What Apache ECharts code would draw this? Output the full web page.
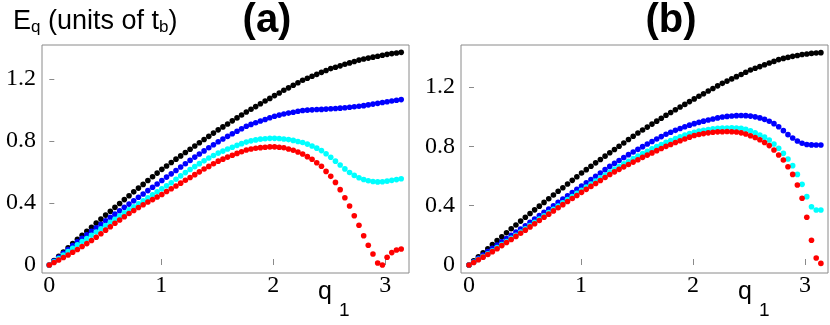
<!DOCTYPE html>
<html>
<head>
<meta charset="utf-8">
<title>E_q vs q_1</title>
<script src="https://cdn.jsdelivr.net/npm/echarts@6/dist/echarts.min.js"></script>
<style>
    html, body { margin: 0; padding: 0; background: #fff; }
    #chart { width: 830px; height: 325px; }
</style>
</head>
<body>
<div id="chart"></div>
<script>
    // q1 sample points, 0 .. pi
    var q1 = [
        0, 0.042, 0.084, 0.126, 0.168, 0.209, 0.251, 0.293, 0.335, 0.377,
        0.419, 0.461, 0.503, 0.545, 0.586, 0.628, 0.670, 0.712, 0.754, 0.796,
        0.838, 0.880, 0.922, 0.963, 1.005, 1.047, 1.089, 1.131, 1.173, 1.215,
        1.257, 1.299, 1.340, 1.382, 1.424, 1.466, 1.508, 1.550, 1.592, 1.634,
        1.676, 1.717, 1.759, 1.801, 1.843, 1.885, 1.927, 1.969, 2.011, 2.053,
        2.094, 2.136, 2.178, 2.220, 2.262, 2.304, 2.346, 2.388, 2.430, 2.471,
        2.513, 2.555, 2.597, 2.639, 2.681, 2.723, 2.765, 2.807, 2.848, 2.890,
        2.932, 2.974, 3.016, 3.058, 3.100, 3.142
    ];

    // panel (a)
    var aBlack = [
        0, 0.028, 0.056, 0.083, 0.111, 0.138, 0.166, 0.192, 0.218, 0.244,
        0.270, 0.296, 0.322, 0.347, 0.372, 0.397, 0.422, 0.447, 0.472, 0.496,
        0.520, 0.545, 0.569, 0.593, 0.617, 0.639, 0.661, 0.683, 0.704, 0.726,
        0.747, 0.768, 0.789, 0.810, 0.830, 0.851, 0.872, 0.891, 0.910, 0.930,
        0.949, 0.968, 0.987, 1.005, 1.022, 1.040, 1.058, 1.075, 1.093, 1.110,
        1.127, 1.143, 1.160, 1.176, 1.192, 1.205, 1.218, 1.230, 1.243, 1.255,
        1.267, 1.276, 1.285, 1.295, 1.304, 1.313, 1.322, 1.329, 1.335, 1.341,
        1.347, 1.353, 1.359, 1.364, 1.368, 1.372
    ];
    var aBlue = [
        0, 0.025, 0.050, 0.075, 0.100, 0.125, 0.150, 0.172, 0.195, 0.217,
        0.240, 0.262, 0.285, 0.307, 0.328, 0.350, 0.372, 0.393, 0.415, 0.437,
        0.458, 0.480, 0.502, 0.523, 0.545, 0.567, 0.588, 0.610, 0.632, 0.653,
        0.675, 0.696, 0.716, 0.736, 0.756, 0.776, 0.795, 0.813, 0.830, 0.847,
        0.863, 0.879, 0.895, 0.907, 0.918, 0.929, 0.939, 0.950, 0.960, 0.967,
        0.974, 0.980, 0.986, 0.992, 0.997, 0.999, 1.001, 1.003, 1.004, 1.006,
        1.008, 1.010, 1.012, 1.015, 1.018, 1.021, 1.024, 1.028, 1.033, 1.038,
        1.043, 1.048, 1.053, 1.058, 1.063, 1.067
    ];
    var aCyan = [
        0, 0.021, 0.042, 0.064, 0.086, 0.108, 0.130, 0.151, 0.171, 0.192,
        0.213, 0.234, 0.255, 0.275, 0.295, 0.316, 0.336, 0.356, 0.376, 0.395,
        0.414, 0.433, 0.453, 0.472, 0.491, 0.511, 0.531, 0.553, 0.575, 0.596,
        0.616, 0.635, 0.654, 0.672, 0.690, 0.706, 0.722, 0.735, 0.748, 0.760,
        0.772, 0.783, 0.793, 0.801, 0.807, 0.812, 0.815, 0.817, 0.817, 0.816,
        0.813, 0.809, 0.804, 0.797, 0.790, 0.780, 0.768, 0.754, 0.738, 0.718,
        0.695, 0.670, 0.645, 0.620, 0.597, 0.578, 0.563, 0.552, 0.544, 0.539,
        0.536, 0.537, 0.541, 0.546, 0.551, 0.556
    ];
    var aRed = [
        0, 0.016, 0.032, 0.048, 0.065, 0.082, 0.100, 0.119, 0.138, 0.158,
        0.179, 0.202, 0.225, 0.247, 0.269, 0.290, 0.311, 0.332, 0.352, 0.371,
        0.389, 0.406, 0.422, 0.439, 0.455, 0.474, 0.492, 0.510, 0.528, 0.547,
        0.565, 0.583, 0.601, 0.619, 0.636, 0.653, 0.670, 0.683, 0.696, 0.708,
        0.720, 0.731, 0.742, 0.748, 0.753, 0.757, 0.760, 0.762, 0.762, 0.760,
        0.756, 0.748, 0.740, 0.729, 0.716, 0.699, 0.682, 0.660, 0.637, 0.604,
        0.572, 0.533, 0.486, 0.434, 0.381, 0.318, 0.256, 0.189, 0.127, 0.071,
        0.013, 0.000, 0.050, 0.080, 0.097, 0.103
    ];

    // panel (b)
    var bBlack = [
        0, 0.028, 0.055, 0.083, 0.110, 0.138, 0.165, 0.191, 0.217, 0.244,
        0.270, 0.296, 0.322, 0.347, 0.372, 0.397, 0.422, 0.447, 0.472, 0.497,
        0.521, 0.546, 0.571, 0.595, 0.620, 0.643, 0.666, 0.689, 0.711, 0.734,
        0.757, 0.779, 0.801, 0.823, 0.846, 0.868, 0.890, 0.910, 0.930, 0.950,
        0.970, 0.990, 1.010, 1.028, 1.047, 1.065, 1.083, 1.102, 1.120, 1.138,
        1.155, 1.173, 1.190, 1.208, 1.225, 1.240, 1.255, 1.270, 1.285, 1.300,
        1.315, 1.327, 1.338, 1.350, 1.362, 1.373, 1.385, 1.393, 1.400, 1.407,
        1.413, 1.419, 1.423, 1.427, 1.430, 1.432
    ];
    var bBlue = [
        0, 0.022, 0.045, 0.067, 0.090, 0.112, 0.135, 0.157, 0.178, 0.200,
        0.222, 0.243, 0.265, 0.288, 0.310, 0.333, 0.355, 0.378, 0.400, 0.422,
        0.444, 0.466, 0.488, 0.510, 0.532, 0.554, 0.576, 0.598, 0.620, 0.643,
        0.665, 0.685, 0.705, 0.725, 0.744, 0.762, 0.780, 0.798, 0.816, 0.833,
        0.850, 0.866, 0.882, 0.895, 0.908, 0.920, 0.932, 0.943, 0.953, 0.962,
        0.970, 0.978, 0.985, 0.992, 0.998, 1.002, 1.005, 1.007, 1.008, 1.007,
        1.004, 0.999, 0.992, 0.982, 0.969, 0.953, 0.932, 0.906, 0.879, 0.856,
        0.836, 0.821, 0.813, 0.810, 0.809, 0.809
    ];
    var bCyan = [
        0, 0.019, 0.038, 0.057, 0.076, 0.096, 0.117, 0.138, 0.159, 0.180,
        0.201, 0.222, 0.244, 0.266, 0.288, 0.310, 0.332, 0.354, 0.376, 0.398,
        0.419, 0.441, 0.462, 0.483, 0.504, 0.525, 0.546, 0.566, 0.587, 0.607,
        0.627, 0.646, 0.664, 0.682, 0.700, 0.717, 0.734, 0.751, 0.767, 0.783,
        0.798, 0.813, 0.827, 0.840, 0.853, 0.865, 0.876, 0.886, 0.895, 0.903,
        0.909, 0.914, 0.918, 0.921, 0.923, 0.924, 0.925, 0.924, 0.921, 0.915,
        0.905, 0.892, 0.877, 0.862, 0.843, 0.816, 0.787, 0.753, 0.715, 0.670,
        0.611, 0.544, 0.461, 0.393, 0.371, 0.371
    ];
    var bRed = [
        0, 0.017, 0.035, 0.053, 0.071, 0.090, 0.110, 0.131, 0.152, 0.172,
        0.193, 0.214, 0.235, 0.257, 0.278, 0.300, 0.322, 0.343, 0.365, 0.386,
        0.407, 0.428, 0.448, 0.469, 0.490, 0.510, 0.530, 0.550, 0.570, 0.590,
        0.610, 0.628, 0.645, 0.662, 0.678, 0.694, 0.710, 0.726, 0.741, 0.756,
        0.771, 0.786, 0.800, 0.813, 0.826, 0.838, 0.850, 0.862, 0.873, 0.880,
        0.886, 0.891, 0.895, 0.898, 0.899, 0.900, 0.899, 0.897, 0.891, 0.883,
        0.872, 0.860, 0.845, 0.826, 0.805, 0.775, 0.742, 0.708, 0.663, 0.611,
        0.539, 0.450, 0.322, 0.167, 0.047, 0.011
    ];

    var xTicks = [0, 1, 2, 3];
    var yTicks = [0, 0.4, 0.8, 1.2];
    var seriesColors = ['#000000', '#0000ff', '#00ffff', '#ff0000'];

    var frameColor = '#8a8a8a';
    var tickFont = 'Liberation Serif';
    var sans = 'Liberation Sans';
    var gridLeft = [42, 461];
    var gridTop = 45, gridHeight = 228;

    function pairs(ys) {
        var out = [];
        for (var i = 0; i < q1.length; i++) {
            out.push([q1[i], ys[i]]);
        }
        return out;
    }

    function makeAxis(idx, min, max, values, len) {
        return {
            type: 'value',
            gridIndex: idx,
            min: min,
            max: max,
            axisLine: { show: false },
            splitLine: { show: false },
            axisLabel: { show: false },
            axisTick: {
                show: true,
                inside: true,
                length: len,
                customValues: values,
                lineStyle: { color: frameColor, width: 1 }
            }
        };
    }

    function makeSeries(idx, lists) {
        var out = [];
        for (var i = 0; i < lists.length; i++) {
            out.push({
                type: 'scatter',
                xAxisIndex: idx,
                yAxisIndex: idx,
                symbol: 'circle',
                symbolSize: 5.6,
                itemStyle: { color: seriesColors[i], opacity: 1 },
                data: pairs(lists[i])
            });
        }
        return out;
    }

    // measure text so the pieces of the y title follow each other
    var measureCtx = document.createElement('canvas').getContext('2d');
    function textWidth(text, size) {
        measureCtx.font = size + 'px ' + sans;
        return measureCtx.measureText(text).width;
    }

    function label(text, x, y, size, weight, align, family) {
        return {
            type: 'text',
            x: x,
            y: y,
            silent: true,
            style: {
                text: text,
                fill: '#000',
                fontFamily: family || sans,
                fontSize: size,
                fontWeight: weight || 'normal',
                align: align || 'left',
                verticalAlign: 'middle'
            }
        };
    }

    function yTitle(x0) {
        var parts = [['E', 27, 22], ['q', 17, 27], [' (units of t', 27, 22], ['b', 17, 27], [')', 27, 22]];
        var out = [];
        var x = x0;
        for (var i = 0; i < parts.length; i++) {
            out.push(label(parts[i][0], x, parts[i][2], parts[i][1]));
            x += textWidth(parts[i][0], parts[i][1]);
        }
        return out;
    }

    var chart = echarts.init(document.getElementById('chart'), null, { renderer: 'canvas' });

    var aX = [-0.0652, 3.2116], aY = [-0.0516, 1.4194];
    var bX = [-0.0714, 3.2054], bY = [-0.0539, 1.4835];

    var graphics = yTitle(13).concat([
        // panel titles
        label('(a)', 267, 21, 40, 'bold', 'center'),
        label('(b)', 671, 21, 40, 'bold', 'center'),
        // x axis names
        label('q', 318, 292, 25),
        label('1', 339, 311, 19),
        label('q', 738, 292, 25),
        label('1', 759, 311, 19)
    ]);

    var option = {
        animation: false,
        backgroundColor: '#ffffff',
        grid: [
            { left: gridLeft[0], top: gridTop, width: 367, height: gridHeight, show: true, borderColor: frameColor, borderWidth: 1, backgroundColor: 'transparent' },
            { left: gridLeft[1], top: gridTop, width: 367, height: gridHeight, show: true, borderColor: frameColor, borderWidth: 1, backgroundColor: 'transparent' }
        ],
        xAxis: [
            makeAxis(0, aX[0], aX[1], xTicks.slice(1), 6),
            makeAxis(1, bX[0], bX[1], xTicks.slice(1), 6)
        ],
        yAxis: [
            makeAxis(0, aY[0], aY[1], yTicks.slice(1), 5),
            makeAxis(1, bY[0], bY[1], yTicks.slice(1), 5)
        ],
        series: makeSeries(0, [aBlack, aBlue, aCyan, aRed])
            .concat(makeSeries(1, [bBlack, bBlue, bCyan, bRed])),
        graphic: graphics
    };

    chart.setOption(option);

    // tick labels, placed through each axis' own scale
    var tickLabels = [];
    for (var p = 0; p < 2; p++) {
        var xBase = gridTop + gridHeight + 13;
        for (var i = 0; i < xTicks.length; i++) {
            var px = chart.convertToPixel({ xAxisIndex: p }, xTicks[i]);
            tickLabels.push(label(String(xTicks[i]), px, xBase, 24, 'normal', 'center', tickFont));
        }
        for (var j = 0; j < yTicks.length; j++) {
            var py = chart.convertToPixel({ yAxisIndex: p }, yTicks[j]);
            tickLabels.push(label(String(yTicks[j]), gridLeft[p] - 6, py, 24, 'normal', 'right', tickFont));
        }
    }
    chart.setOption({ graphic: graphics.concat(tickLabels) });
</script>
</body>
</html>
